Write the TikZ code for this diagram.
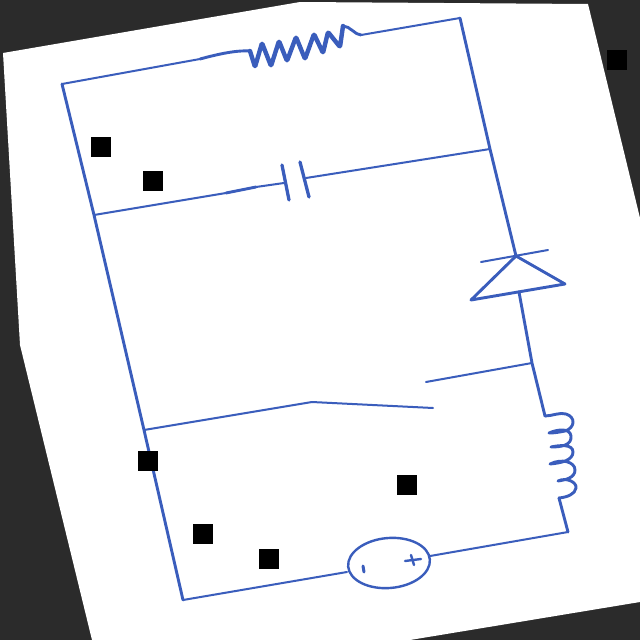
\documentclass[tikz,border=0pt]{standalone}
\definecolor{wire}{HTML}{3A5DBC}
\definecolor{bgdark}{HTML}{2B2B2B}
\tikzset{
  thinw/.style={draw=wire,line width=2pt,line cap=round,line join=round},
  thickw/.style={draw=wire,line width=2.9pt,line cap=round,line join=round},
  coil/.style={draw=wire,line width=4.4pt,line cap=round,line join=round,rounded corners=1pt},
  blackbox/.style={fill=black,draw=none}
}
\begin{document}
\begin{tikzpicture}[x=1pt,y=-1pt]
\useasboundingbox (0,0) rectangle (640,640);
\fill[bgdark] (0,0) rectangle (640,640);
\fill[white] (3,53) -- (300,2) -- (588,4) -- (640,218) -- (640,602) -- (410,640) -- (92,640) -- (20,345) -- cycle;
% junctions
\coordinate (tl) at (62,84);
\coordinate (tr) at (460,18);
\coordinate (capL) at (94,215);
\coordinate (capR) at (490,149);
\coordinate (swL) at (144,430);
\coordinate (bl) at (183,600);
\coordinate (br) at (568,532);
\coordinate (dTop) at (516,256);
\coordinate (dBot) at (519,292);
\coordinate (swR) at (532,363);
\coordinate (lTop) at (545,416);
\coordinate (lBot) at (559,498);
% outer wires
\draw[thinw] (tl) -- (200,59);
\draw[thinw] (361,35) -- (tr);
\draw[thickw] (tr) -- (capR) -- (dTop);
\draw[thickw] (tl) -- (capL) -- (swL) -- (bl);
\draw[thinw] (bl) -- (347,572);
\draw[thinw] (430,556) -- (br);
\draw[thickw] (br) -- (lBot);
\draw[thickw] (dBot) -- (swR) -- (lTop);
% resistor
\draw[thickw] (200,59) .. controls (215,55) and (235,50) .. (250,51);
\draw[coil] (250,51) -- (255,67) -- (262,43) -- (271,66) -- (279,41) -- (287,61) -- (296,37) -- (305,59) -- (314,34) -- (323,53) -- (328,32) -- (340,47) -- (343,26);
\draw[thickw] (343,26) .. controls (350,26) and (355,35) .. (361,35);
% capacitor
\draw[thinw] (capL) -- (226,193);
\draw[thickw] (226,193) -- (256,187);
\draw[thinw] (256,187) -- (284,183);
\draw[draw=wire,line width=3.3pt,line cap=round] (282,165) -- (289,200);
\draw[draw=wire,line width=3.3pt,line cap=round] (300,162) -- (309,197);
\draw[thinw] (306,178) -- (capR);
% diode
\draw[thinw] (481,262) -- (548,250);
\draw[thickw] (dTop) -- (471,300) -- (565,284) -- cycle;
% switch
\draw[thinw] (swR) -- (426,382);
\draw[thinw] (swL) -- (312,402);
\draw[thinw] (312,402) -- (433,408);
% inductor
\draw[thickw] (lTop) .. controls (552,416) and (560,412) .. (566,414) .. controls (576,417) and (575,428) .. (565,431) .. controls (560,432) and (555,433) .. (549,433)
  .. controls (558,429) and (570,428) .. (571,436) .. controls (572,445) and (562,447) .. (551,447)
  .. controls (560,445) and (573,444) .. (573,452) .. controls (573,460) and (562,463) .. (550,464)
  .. controls (562,458) and (575,462) .. (575,470) .. controls (575,478) and (565,480) .. (558,481)
  .. controls (566,477) and (577,482) .. (576,488) .. controls (575,494) and (568,497) .. (lBot);
% source
\draw[draw=wire,line width=2.4pt,rotate around={5:(389,563)}] (389,563) ellipse [x radius=41,y radius=25];
\draw[draw=wire,line width=3pt,line cap=round] (363,566) -- (364,572);
\draw[draw=wire,line width=2.4pt,line cap=round] (405,561) -- (421,559);
\draw[draw=wire,line width=2.4pt,line cap=round] (411,555) -- (414,565);
\foreach \x/\y in {91/137,143/171,607/50,138/451,397/475,193/524,259/549}
  \fill[blackbox] (\x,\y) rectangle ++(20,20);
\end{tikzpicture}
\end{document}
